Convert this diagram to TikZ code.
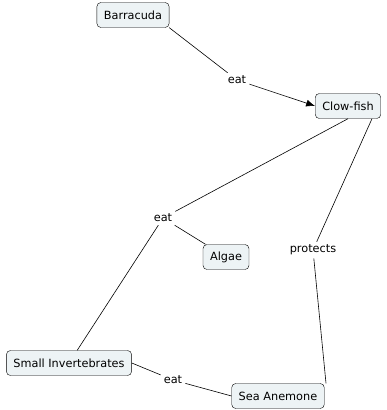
\documentclass[tikz,border=0pt]{standalone}
\usepackage{fontspec}
\setmainfont{DejaVu Sans}
\usetikzlibrary{arrows.meta}

\tikzset{
    concept/.style={draw, rounded corners=4pt, fill=conceptfill, font=\fontsize{11.3}{13}\selectfont, inner xsep=7pt, minimum height=25pt},
    linkword/.style={font=\fontsize{11.3}{13}\selectfont, inner sep=3pt},
    link/.style={draw, line width=0.6pt}
}
\definecolor{conceptfill}{HTML}{EDF3F5}

\begin{document}
\begin{tikzpicture}[x=1pt, y=-1pt]
            \useasboundingbox (0, 0) rectangle (387, 410);
            % Concepts:
                \node[concept](barracuda) at (133, 15){Barracuda};
                \node[concept](clowfish) at (348, 106){Clow-fish};
                \node[concept](algae) at (226, 257){Algae};
                \node[concept](smallinv) at (69, 363){Small Invertebrates};
                \node[concept](anemone) at (278, 396){Sea Anemone};
            % Linking words:
                \node[linkword](eatA) at (237, 80){eat};
                \node[linkword](eatB) at (163, 218){eat};
                \node[linkword](protects) at (313, 250){protects};
                \node[linkword](eatC) at (173, 380){eat};
            % Links:
                \draw[link] (barracuda.south east) -- (eatA);
                \draw[link, -{Latex[length=9pt, width=7pt]}] (eatA) -- (clowfish.west);
                \draw[link] (clowfish.south) -- (eatB);
                \draw[link] (eatB) -- (algae);
                \draw[link] (eatB) -- (smallinv);
                \draw[link] ([xshift=24pt]clowfish.south) -- (protects);
                \draw[link] (protects) -- ([xshift=48pt]anemone.north);
                \draw[link] (smallinv.east) -- (eatC);
                \draw[link] (eatC) -- (anemone.west);
            \end{tikzpicture}
\end{document}
